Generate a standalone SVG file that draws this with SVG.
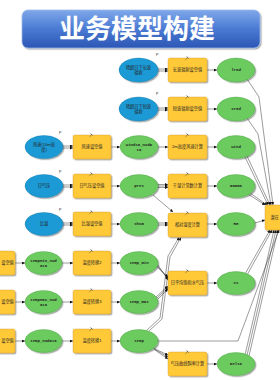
<svg xmlns="http://www.w3.org/2000/svg" xmlns:xlink="http://www.w3.org/1999/xlink" width="280" height="380" viewBox="0 0 280 380">
<defs>
<linearGradient id="tg" x1="0" y1="0" x2="0" y2="1">
<stop offset="0" stop-color="#7FA8EA"/><stop offset="0.5" stop-color="#4A7AD3"/><stop offset="1" stop-color="#2C56B4"/>
</linearGradient>
<filter id="sh" x="-20%" y="-20%" width="150%" height="150%"><feDropShadow dx="1.2" dy="1.2" stdDeviation="0.6" flood-color="#000" flood-opacity="0.35"/></filter>
<marker id="ar" viewBox="0 0 6 6" refX="6" refY="3" markerWidth="3" markerHeight="3" orient="auto" markerUnits="userSpaceOnUse"><path d="M0,0L6,3L0,6z" fill="#111"/></marker>
<g id="ham"><path d="M-1.6,2.2L0.6,-0.6" stroke="#555" stroke-width="0.5"/><path d="M-0.4,-1.4L1.6,0.4" stroke="#555" stroke-width="0.9"/></g>
<style>
.b{fill:#1C9AD6;stroke:#1478A8;stroke-width:0.4;filter:url(#sh)}
.g{fill:#6CCB5F;stroke:#4C9E44;stroke-width:0.4;filter:url(#sh)}
.y{fill:#FFC937;stroke:#C9962A;stroke-width:0.4;filter:url(#sh)}
.t{font-family:"Liberation Sans","Noto Sans CJK SC",sans-serif;font-size:4.2px;fill:#222;text-anchor:middle;dominant-baseline:middle}
.e{font-family:"Liberation Mono","Noto Sans CJK SC",monospace;font-size:4px;font-weight:bold;fill:#222;text-anchor:middle;dominant-baseline:middle}
.p{font-family:"Liberation Sans",sans-serif;font-size:3.5px;fill:#222}
.c{fill:none;stroke:#222;stroke-width:0.45}
.ca{fill:none;stroke:#222;stroke-width:0.45;marker-end:url(#ar)}
</style>
</defs>
<rect width="280" height="380" fill="#fff"/>
<g id="title">
<rect x="22" y="10" width="238" height="38" rx="6" fill="url(#tg)" stroke="#9DB8E8" stroke-width="0.8" filter="url(#sh)"/>
<text x="137" y="31" font-family="'Noto Sans CJK SC',sans-serif" font-size="26" font-weight="bold" fill="#fff" text-anchor="middle" dominant-baseline="middle">业务模型构建</text>
</g>

<g id="connectors">
<path class="ca" d="M158,69H168"/><path class="ca" d="M158,71H168"/><path class="ca" d="M207,70H217"/>
<path class="ca" d="M158,108H168"/><path class="ca" d="M158,110H168"/><path class="ca" d="M207,109H217"/>
<path class="ca" d="M63,146H73"/><path class="ca" d="M63,148H73"/><path class="ca" d="M111,147H120"/><path class="ca" d="M158,147H168"/><path class="ca" d="M207,147H217"/>
<path class="ca" d="M63,185H73"/><path class="ca" d="M63,187H73"/><path class="ca" d="M111,186H120"/>
<path class="ca" d="M158,184.5H168"/><path class="ca" d="M158,186H168"/><path class="ca" d="M158,187.5H168"/><path class="ca" d="M207,186H217"/>
<path class="ca" d="M153,195L173,212"/>
<path class="ca" d="M63,223H73"/><path class="ca" d="M63,225H73"/><path class="ca" d="M111,224H120"/>
<path class="ca" d="M158,223H168"/><path class="ca" d="M158,225H168"/><path class="ca" d="M207,224H217"/>
<path class="ca" d="M255,223L265,220"/>
<path class="ca" d="M15,263H25"/><path class="ca" d="M62,263H73"/><path class="ca" d="M111,263H120"/>
<path class="ca" d="M156,266L168,277"/><path class="ca" d="M157,265.5L168,278.5"/><path class="ca" d="M158,265L168,280"/>
<path class="ca" d="M15,302H25"/><path class="ca" d="M62,302H73"/><path class="ca" d="M111,302H120"/>
<path class="ca" d="M156,297L168,286"/><path class="ca" d="M157,298L168,287.5"/><path class="ca" d="M158,299L168,289"/>
<path class="ca" d="M15,341H25"/><path class="ca" d="M62,341H73"/><path class="ca" d="M111,341H120"/>
<path class="ca" d="M153,348L168,355"/><path class="ca" d="M154,349L168,357"/><path class="ca" d="M155,350L168,359"/>
<path class="ca" d="M207,283H217"/><path class="ca" d="M207,364H217"/>
<path class="ca" d="M147,330L160,318L168,256L179,237.5"/>
<path class="ca" d="M149,331L162,319L170,257L181,237.5"/>
<path class="ca" d="M247,79L259,97L273,205"/>
<path class="ca" d="M247,118L258,134L271,205"/>
<path class="ca" d="M245,157L268,205"/><path class="ca" d="M247,156L270,205"/>
<path class="ca" d="M248,194L265,205"/><path class="ca" d="M250,193L267,205"/>
<path class="ca" d="M245,274L270,230"/><path class="ca" d="M247,275L272,230"/>
<path class="ca" d="M245,355L274,230"/><path class="ca" d="M247,355.5L276,230"/><path class="ca" d="M249,356L278,230"/>
<path class="ca" d="M158,341H238L279,230"/>
</g>

<g id="n_lw_in"><ellipse class="b" cx="138.5" cy="70" rx="19.5" ry="12"/><text class="t" x="138.5" y="68">晴朗日下长波</text><text class="t" x="138.5" y="73">辐射</text><text class="p" x="156" y="56">P</text></g>
<g id="n_lw_set"><rect class="y" x="168" y="58" width="39" height="24" rx="2"/><use xlink:href="#ham" x="187" y="58"/><text class="t" x="187.5" y="70">长波辐射设空值</text></g>
<g id="n_lrad"><ellipse class="g" cx="236" cy="70" rx="19" ry="12"/><text class="e" x="236" y="70">lrad</text></g>
<g id="n_sw_in"><ellipse class="b" cx="138.5" cy="109" rx="19.5" ry="12"/><text class="t" x="138.5" y="107">晴朗日下短波</text><text class="t" x="138.5" y="112">辐射</text><text class="p" x="156" y="95">P</text></g>
<g id="n_sw_set"><rect class="y" x="168" y="97" width="39" height="24" rx="2"/><use xlink:href="#ham" x="187" y="97"/><text class="t" x="187.5" y="109">短波辐射设空值</text></g>
<g id="n_srad"><ellipse class="g" cx="236" cy="109" rx="19" ry="12"/><text class="e" x="236" y="109">srad</text></g>
<g id="n_wind_in"><ellipse class="b" cx="44" cy="147" rx="19" ry="11.5"/><text class="t" x="44" y="145">风速(10m高</text><text class="t" x="44" y="150">度)</text><text class="p" x="59" y="134">P</text></g>
<g id="n_wind_set"><rect class="y" x="73" y="135" width="38" height="24" rx="2"/><use xlink:href="#ham" x="91" y="135"/><text class="t" x="92" y="147">风速设空值</text></g>
<g id="n_wind10"><ellipse class="g" cx="139" cy="147" rx="19" ry="11.5"/><text class="e" x="139" y="145">wind10_noda</text><text class="e" x="139" y="150">ta</text></g>
<g id="n_wind_calc"><rect class="y" x="168" y="135" width="39" height="24" rx="2"/><use xlink:href="#ham" x="187" y="135"/><text class="t" x="187.5" y="147">2m高度风速计算</text></g>
<g id="n_wind"><ellipse class="g" cx="236" cy="147" rx="19" ry="11.5"/><text class="e" x="236" y="147">wind</text></g>
<g id="n_pres_in"><ellipse class="b" cx="44" cy="186" rx="19" ry="11.5"/><text class="t" x="44" y="186">日气压</text><text class="p" x="59" y="173">P</text></g>
<g id="n_pres_set"><rect class="y" x="73" y="174" width="38" height="24" rx="2"/><use xlink:href="#ham" x="91" y="174"/><text class="t" x="92" y="186">日气压设空值</text></g>
<g id="n_pres"><ellipse class="g" cx="139" cy="186" rx="19" ry="11.5"/><text class="e" x="139" y="186">pres</text></g>
<g id="n_gamma_calc"><rect class="y" x="168" y="174" width="39" height="24" rx="2"/><use xlink:href="#ham" x="187" y="174"/><text class="t" x="187.5" y="186">干湿计常数计算</text></g>
<g id="n_gamma"><ellipse class="g" cx="236" cy="186" rx="19" ry="11.5"/><text class="e" x="236" y="186">Gamma</text></g>
<g id="n_shum_in"><ellipse class="b" cx="44" cy="224" rx="19" ry="11.5"/><text class="t" x="44" y="224">比湿</text><text class="p" x="59" y="211">P</text></g>
<g id="n_shum_set"><rect class="y" x="73" y="212" width="38" height="24" rx="2"/><use xlink:href="#ham" x="91" y="212"/><text class="t" x="92" y="224">比湿设空值</text></g>
<g id="n_shum"><ellipse class="g" cx="139" cy="224" rx="19" ry="11.5"/><text class="e" x="139" y="224">shum</text></g>
<g id="n_rh_calc"><rect class="y" x="168" y="213" width="39" height="24" rx="2"/><use xlink:href="#ham" x="187" y="213"/><text class="t" x="187.5" y="225">相对湿度计算</text></g>
<g id="n_rh"><ellipse class="g" cx="236" cy="224" rx="19" ry="11.5"/><text class="e" x="236" y="224">RH</text></g>
<g id="n_et_calc"><rect class="y" x="265" y="205" width="40" height="25" rx="2"/><text class="t" x="270.5" y="217.5" style="text-anchor:start">潜在</text></g>
<g id="n_tmin_set"><rect class="y" x="-24" y="251" width="39" height="24" rx="2"/><text class="t" x="7.5" y="263">设空值</text></g>
<g id="n_tmin_nd"><ellipse class="g" cx="43.5" cy="263" rx="18.5" ry="11.5"/><text class="e" x="43.5" y="261">tempMin_nod</text><text class="e" x="43.5" y="266">ata</text></g>
<g id="n_tmin_conv"><rect class="y" x="73" y="251" width="38" height="24" rx="2"/><use xlink:href="#ham" x="91" y="251"/><text class="t" x="92" y="263">温度转换2</text></g>
<g id="n_tmin"><ellipse class="g" cx="139" cy="263" rx="19" ry="11.5"/><text class="e" x="139" y="263">temp_min</text></g>
<g id="n_es_calc"><rect class="y" x="168" y="271" width="39" height="24" rx="2"/><use xlink:href="#ham" x="187" y="271"/><text class="t" x="187.5" y="283">日平均饱和水气压</text></g>
<g id="n_es"><ellipse class="g" cx="236" cy="283" rx="19" ry="11.5"/><text class="e" x="236" y="283">es</text></g>
<g id="n_tmax_set"><rect class="y" x="-24" y="290" width="39" height="24" rx="2"/><text class="t" x="7.5" y="302">设空值</text></g>
<g id="n_tmax_nd"><ellipse class="g" cx="43.5" cy="302" rx="18.5" ry="11.5"/><text class="e" x="43.5" y="300">tempMax_nod</text><text class="e" x="43.5" y="305">ata</text></g>
<g id="n_tmax_conv"><rect class="y" x="73" y="290" width="38" height="24" rx="2"/><use xlink:href="#ham" x="91" y="290"/><text class="t" x="92" y="302">温度转换3</text></g>
<g id="n_tmax"><ellipse class="g" cx="139" cy="302" rx="19" ry="11.5"/><text class="e" x="139" y="302">temp_max</text></g>
<g id="n_temp_set"><rect class="y" x="-24" y="329" width="39" height="24" rx="2"/><text class="t" x="7.5" y="341">设空值</text></g>
<g id="n_temp_nd"><ellipse class="g" cx="43.5" cy="341" rx="18.5" ry="11.5"/><text class="e" x="43.5" y="341">temp_nodata</text></g>
<g id="n_temp_conv"><rect class="y" x="73" y="329" width="38" height="24" rx="2"/><use xlink:href="#ham" x="91" y="329"/><text class="t" x="92" y="341">温度转换1</text></g>
<g id="n_temp"><ellipse class="g" cx="139" cy="341" rx="19" ry="11.5"/><text class="e" x="139" y="341">temp</text></g>
<g id="n_delta_calc"><rect class="y" x="168" y="352" width="39" height="24" rx="2"/><use xlink:href="#ham" x="187" y="352"/><text class="t" x="187.5" y="364">气压曲线斜率计算</text></g>
<g id="n_delta"><ellipse class="g" cx="236" cy="364" rx="19" ry="11.5"/><text class="e" x="236" y="364">Delta</text></g>
</svg>
